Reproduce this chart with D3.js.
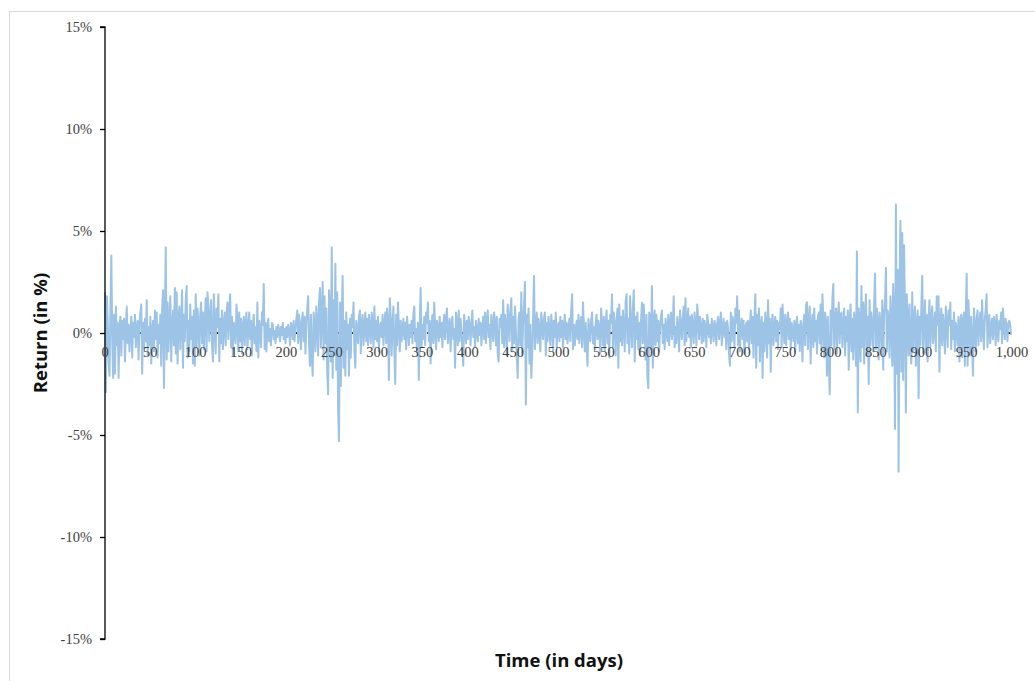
<!DOCTYPE html>
<html>
<head>
<meta charset="utf-8">
<script src="https://cdn.jsdelivr.net/npm/d3@7"></script>
<style>
  body { margin: 0; background: #fff; }
  svg { display: block; }
</style>
</head>
<body>
<div id="app"></div>
<script>
const width = 1035;
const height = 681;

// daily returns in %, day 0..999
const returns = [
  2.0, -2.9, 1.8, 0.6, -1.5, -2.1, 1.2, 3.8, -0.4, -2.2,
  0.9, -2.0, 1.3, -0.6, 0.5, -2.2, 0.3, 0.8, -1.1, 0.6,
  -0.3, 0.7, -1.4, 0.2, 1.3, -0.5, 0.4, -0.9, 0.1, 0.8,
  -1.2, 0.5, -0.2, 0.9, -0.7, 0.3, 0.6, -1.3, 0.4, 1.0,
  1.4, -2.0, 0.5, -0.8, 0.7, -0.4, 1.6, -1.1, 0.3, -0.6,
  0.8, -1.5, 0.2, 0.6, -0.9, 1.1, -0.3, 1.0, -1.2, 0.4,
  -0.5, 0.9, -1.6, 1.2, 2.1, -2.7, 0.8, 4.2, -1.3, 1.5,
  -0.9, 0.6, 1.8, -1.4, 0.4, 1.1, -0.6, 2.2, -1.0, 2.0,
  -1.5, 0.7, 1.3, -0.8, 0.5, 2.1, -1.7, 0.9, -0.4, 1.6,
  2.3, -1.2, 0.6, -0.9, 1.4, -0.3, 0.8, -1.5, 1.1, -1.6,
  1.9, -0.7, 1.2, 0.4, -1.1, 0.9, 1.5, -0.5, 1.0, -0.8,
  0.6, 1.7, -0.9, 2.0, 1.3, -0.4, 0.8, 1.6, -0.6, -1.4,
  1.9, 0.5, -1.0, 1.2, 0.3, 1.9, -1.4, 0.7, -0.5, 1.1,
  -0.8, 0.4, 1.0, -0.6, 0.9, 1.5, -0.3, 1.2, 1.9, -0.7,
  0.8, -1.1, 0.5, 0.2, -0.5, 1.4, 0.6, -0.9, 1.0, -0.4,
  0.7, -1.0, 0.3, 0.8, -0.6, 0.5, 1.0, -0.8, 0.2, 1.0,
  -0.3, 0.6, -1.1, 0.4, 0.9, -0.5, 0.3, -0.9, 1.5, -1.2,
  0.6, 0.2, -0.7, 1.0, 0.4, 2.4, -0.8, 0.5, -0.9, 0.3,
  0.7, -0.4, 0.2, -0.6, 0.5, 0.4, -0.3, 0.1, -0.5, 0.3,
  -0.2, 0.4, 0.1, -0.4, 0.3, -0.1, 0.5, -0.3, 0.2, -0.5,
  0.3, -0.2, 0.4, 0.1, -0.6, 0.5, 0.2, -0.3, 0.6, -0.4,
  0.2, 0.7, 1.1, -0.5, 0.9, 0.3, -0.8, 0.6, 1.0, -0.4,
  0.8, -1.0, 0.5, 1.2, 1.8, -0.6, -1.6, 0.9, -1.2, -2.1,
  1.0, 0.4, -0.9, 1.3, 0.6, -1.1, 1.5, 2.2, -0.7, 0.9,
  2.5, -1.3, 1.8, -0.5, 1.2, -1.9, -3.0, 2.1, 1.0, -1.4,
  4.2, -2.2, 1.6, -0.9, 3.4, -1.8, 2.0, -3.7, -5.3, 1.5,
  -2.6, 0.8, 2.8, -1.7, 0.6, -2.1, 1.0, -0.8, 0.4, -2.1,
  0.7, -1.2, 0.9, 0.3, 1.5, -0.9, -1.7, 0.6, 0.2, -0.5,
  0.8, 1.1, -1.0, 0.4, 0.9, -0.6, 0.3, 1.0, -0.4, 0.7,
  -0.6, 0.9, 0.2, -0.5, 1.0, 0.4, -0.7, 1.3, -0.3, 0.6,
  -0.4, 0.8, -0.9, 0.3, 0.5, -0.2, 0.9, -0.6, 0.4, 1.0,
  -0.5, 1.2, 0.6, -2.3, 1.7, 0.8, -1.1, 0.4, 1.3, -0.8,
  -2.5, 0.9, -0.6, 1.5, 0.3, -0.9, 0.6, -0.4, 0.2, 0.7,
  -0.3, 0.5, -0.8, 0.8, 0.2, -0.6, 0.4, -0.2, 0.6, -0.5,
  0.9, 1.3, -0.4, 0.2, -0.9, 0.5, -2.3, 0.3, 2.2, -0.7,
  0.4, -0.3, 0.8, -0.6, 1.0, 0.5, 1.5, -0.4, 0.6, -1.5,
  0.3, 0.9, -0.5, 1.5, 0.2, -0.8, 0.6, 0.3, -0.4, 0.8,
  -0.2, 0.5, -0.7, 0.4, 0.9, -0.3, 0.6, 1.2, -0.5, 0.2,
  0.7, -0.9, 0.4, 0.8, -0.3, 0.2, -1.7, 1.0, 0.5, -0.6,
  1.1, -0.4, 0.7, 0.2, -0.8, -1.6, 0.9, 0.3, -0.5, 0.6,
  -0.3, 0.8, 0.4, -0.6, 0.5, 1.1, -0.2, 0.3, -0.7, 0.6,
  0.2, -0.4, 0.7, -0.1, 0.5, -0.6, 0.3, 0.8, -0.3, 1.0,
  -0.5, 0.6, 1.1, -0.2, 0.4, -0.8, 0.9, 0.3, -0.4, 1.0,
  0.5, -0.6, 0.8, -1.0, -1.4, 0.7, 0.3, 0.9, -0.5, 1.6,
  -0.7, 0.9, 0.4, -1.1, 1.4, 0.6, -0.4, 1.1, 1.7, -0.9,
  0.8, -0.5, 1.3, 0.2, -1.2, -2.2, 0.7, 1.0, -0.6, 2.0,
  -1.1, 0.5, 1.4, 2.5, -3.5, 0.9, -0.7, 1.2, -1.5, 0.4,
  -2.2, -1.0, 0.6, 2.8, -0.8, 0.3, 1.0, -0.5, 0.7, 0.2,
  -0.9, 1.0, 0.4, -0.3, 0.7, 1.0, -1.1, 0.5, -0.4, 0.8,
  0.2, -0.6, 0.9, 0.4, -0.9, 0.6, -0.2, 1.0, -0.7, 0.3,
  0.5, -0.4, 0.8, -0.2, 0.6, -0.7, 0.4, 0.9, -0.3, 0.5,
  -0.5, 0.3, 0.7, -0.4, 1.1, 1.9, -0.8, 0.4, -0.6, 0.2,
  0.6, -0.3, 0.9, -0.5, 0.4, 0.8, -0.7, 1.5, 0.3, -0.9,
  0.5, -0.6, -1.6, 0.7, 0.2, -0.4, 0.6, 1.0, -0.5, 0.3,
  -0.8, 0.5, 0.9, -0.3, 0.6, 0.2, -1.0, 1.2, 0.4, -0.6,
  0.8, -0.9, 0.3, 1.1, -0.5, 0.6, -1.2, 0.9, 0.5, 1.9,
  -0.7, 1.0, 0.4, -1.1, 0.6, 1.2, -1.7, 1.4, -0.4, 0.8,
  -0.6, 1.1, 0.3, -0.9, 1.5, 1.9, -0.5, 0.7, -1.0, 1.8,
  0.4, -0.7, 1.2, 2.1, -1.4, 0.8, -0.3, 1.0, -0.8, 0.5,
  -1.1, 0.6, 1.5, -0.5, 1.4, 0.2, -1.3, 0.9, -2.1, -2.7,
  1.0, 0.7, -0.8, 2.3, -1.7, 0.5, 1.1, -0.6, 0.9, -0.4,
  0.6, -0.9, 0.3, 0.8, 1.1, -0.5, 0.4, -0.8, 0.7, 0.2,
  -0.4, 0.9, -0.6, 0.5, 1.0, -0.3, 0.4, 1.8, -0.7, 0.3,
  -0.5, 0.8, 0.2, -0.9, 1.1, 0.4, -0.3, 0.7, 1.3, -0.6,
  1.7, -0.4, 0.5, 1.2, -0.2, 0.8, -0.7, 0.9, 0.3, -0.5,
  1.0, 0.4, -0.6, 1.4, 0.6, -0.3, 0.8, 0.2, -0.5, 0.7,
  -0.4, 0.6, 0.3, -0.7, 0.9, 0.5, -0.2, 0.4, -0.5, 0.7,
  0.2, -0.4, 0.6, 0.3, -0.6, 0.5, 0.8, -0.3, 0.4, 1.0,
  -0.6, 0.3, 0.7, -0.2, 0.5, -0.8, 0.6, 0.2, -1.0, -1.6,
  1.0, -0.4, 0.8, 0.3, -0.7, 1.2, 0.5, 1.8, -0.6, 1.1,
  -0.9, 0.4, 0.7, -0.3, 0.6, -1.0, 0.2, 0.5, -0.4, 0.6,
  -0.8, 0.3, 1.1, -0.5, 0.8, -1.2, 0.6, 1.9, -1.7, 0.9,
  -0.6, 1.2, -1.4, 0.4, 0.8, -2.2, 0.5, -0.9, 1.0, 0.3,
  -1.2, 1.6, -0.5, 0.7, -1.9, 0.4, 0.9, -0.6, 0.3, 0.8,
  -0.4, 0.6, -0.8, 0.5, 0.2, 1.2, -0.7, 1.4, 0.3, -0.5,
  0.9, -0.6, 0.4, 1.0, -0.3, 0.7, -0.8, 0.5, 0.2, -0.4,
  0.6, -0.9, 0.3, 0.8, -0.5, 0.4, -0.9, 0.6, 0.2, -1.4,
  0.5, 0.9, -0.6, 1.4, 1.5, -0.8, 0.7, 1.3, -1.5, 0.4,
  0.9, -0.7, 1.2, -0.4, 0.6, -1.0, 0.8, 1.0, -0.5, 1.4,
  -0.9, 1.9, 0.6, -1.2, 1.0, 0.4, -2.1, 0.8, -1.4, -3.0,
  1.1, -0.6, 1.7, 2.4, -0.8, 0.5, 1.2, -1.0, 0.7, 1.5,
  -0.5, 0.9, 1.0, -0.7, 0.4, 1.2, -1.1, 0.8, -0.4, 1.1,
  -1.8, 0.6, 1.4, -0.9, 0.7, -1.3, 1.0, 0.4, -1.6, 4.0,
  -3.9, 1.2, 0.6, -1.4, 2.3, -0.7, 1.5, -1.5, 0.9, 1.9,
  -1.1, 0.8, -2.5, 1.6, -0.6, 1.0, 0.4, -0.9, 1.3, 2.9,
  -0.8, 1.2, 0.5, -1.3, 1.0, 0.3, -0.7, 1.6, -1.8, 0.9,
  1.5, 3.2, -0.9, 1.1, 0.7, -1.2, 1.8, 0.6, -1.6, 2.4,
  0.8, -4.7, 6.3, -2.0, 3.1, -6.8, 2.4, 5.5, -1.9, 4.9,
  -2.3, 4.3, 1.2, -3.9, 1.9, 0.6, -1.1, 1.4, -0.8, -1.5,
  2.0, -0.9, 0.7, 1.3, -1.6, 0.5, 1.1, -3.2, 0.8, -0.6,
  1.2, 2.8, -1.0, 0.4, 1.6, -0.8, 0.9, -1.4, 0.5, 1.6,
  -0.7, 0.6, 1.3, -0.5, 0.3, 1.0, -0.9, 1.8, 0.4, 1.8,
  -1.9, 0.7, 1.2, -0.6, 0.9, 0.3, -1.0, 1.3, 0.5, -0.7,
  1.1, 0.4, 1.5, -0.8, 0.6, -0.3, 1.0, -0.9, 0.5, 0.2,
  -0.6, 0.8, -1.4, 0.4, 0.9, -1.2, 0.6, 1.0, -1.6, 0.7,
  2.9, -1.6, 1.6, 0.3, -1.1, 0.8, -0.5, -2.1, 1.2, 0.4,
  -0.9, 0.7, 1.1, -0.6, 0.5, 1.0, -0.4, 1.6, 0.3, -0.8,
  0.6, 1.2, 1.9, -0.7, 0.4, 0.9, -0.5, 0.3, 0.7, -0.3,
  0.8, 0.5, -0.6, 0.9, 0.3, -0.4, 0.6, 0.2, 1.0, -0.5,
  1.2, 0.4, -0.3, 0.7, 0.3, -0.4, 0.5, 0.6, 0.4, -0.1
];

const yTicks = [-15, -10, -5, 0, 5, 10, 15];
const xTicks = d3.range(0, 1001, 50);
const xTitle = 'Time (in days)';
const yTitle = 'Return (in %)';

const x = d3.scaleLinear().domain([0, 1000]).range([105, 1012]);
const y = d3.scaleLinear().domain([-15, 15]).range([639, 27]);

const svg = d3.select('#app').append('svg')
  .attr('width', width)
  .attr('height', height);

// chart frame
svg.append('rect')
  .attr('x', 9.5).attr('y', 11.5)
  .attr('width', 1040).attr('height', 700)
  .attr('fill', 'none')
  .attr('stroke', '#d9d9d9');

// x axis line (dotted, at 0)
svg.append('line')
  .attr('x1', x(0)).attr('x2', x(1000))
  .attr('y1', y(0)).attr('y2', y(0))
  .attr('stroke', '#000')
  .attr('stroke-width', 2)
  .attr('stroke-dasharray', '3,4');

const line = d3.line()
  .x((d, i)=>x(i))
  .y((d)=>y(d));

svg.append('path')
  .datum(returns)
  .attr('d', line)
  .attr('fill', 'none')
  .attr('stroke', '#9dc3e6')
  .attr('stroke-width', 2)
  .attr('stroke-linejoin', 'round');

// y axis
const yAxis = svg.append('g')
  .attr('transform', `translate(${x(0)},0)`)
  .call(d3.axisLeft(y).tickValues(yTicks).tickSize(5).tickPadding(8)
    .tickFormat((d)=>d + '%'));
yAxis.select('.domain').attr('stroke', '#000').attr('stroke-width', 1.3)
  .attr('d', `M-5,${y(15)}H0V${y(-15)}H-5`);
yAxis.selectAll('.tick line').attr('stroke', '#000').attr('stroke-width', 1.3);
yAxis.selectAll('.tick text')
  .attr('font-family', '"Liberation Serif", "Times New Roman", serif')
  .attr('font-size', 14.5)
  .attr('fill', '#404040');

// x tick labels
svg.append('g')
  .selectAll('text')
  .data(xTicks)
  .join('text')
  .attr('x', (d)=>x(d))
  .attr('y', y(0) + 24)
  .attr('text-anchor', 'middle')
  .attr('font-family', '"Liberation Serif", "Times New Roman", serif')
  .attr('font-size', 14.5)
  .attr('fill', '#404040')
  .text(d3.format(','));

// axis titles
svg.append('text')
  .attr('x', 559).attr('y', 667)
  .attr('text-anchor', 'middle')
  .attr('font-family', '"Open Sans", sans-serif')
  .attr('font-weight', 'bold')
  .attr('font-size', 18.5)
  .attr('fill', '#111')
  .text(xTitle);

svg.append('text')
  .attr('transform', `translate(47,${y(0)}) rotate(-90)`)
  .attr('text-anchor', 'middle')
  .attr('font-family', '"Open Sans", sans-serif')
  .attr('font-weight', 'bold')
  .attr('font-size', 18.5)
  .attr('fill', '#111')
  .text(yTitle);
</script>
</body>
</html>
